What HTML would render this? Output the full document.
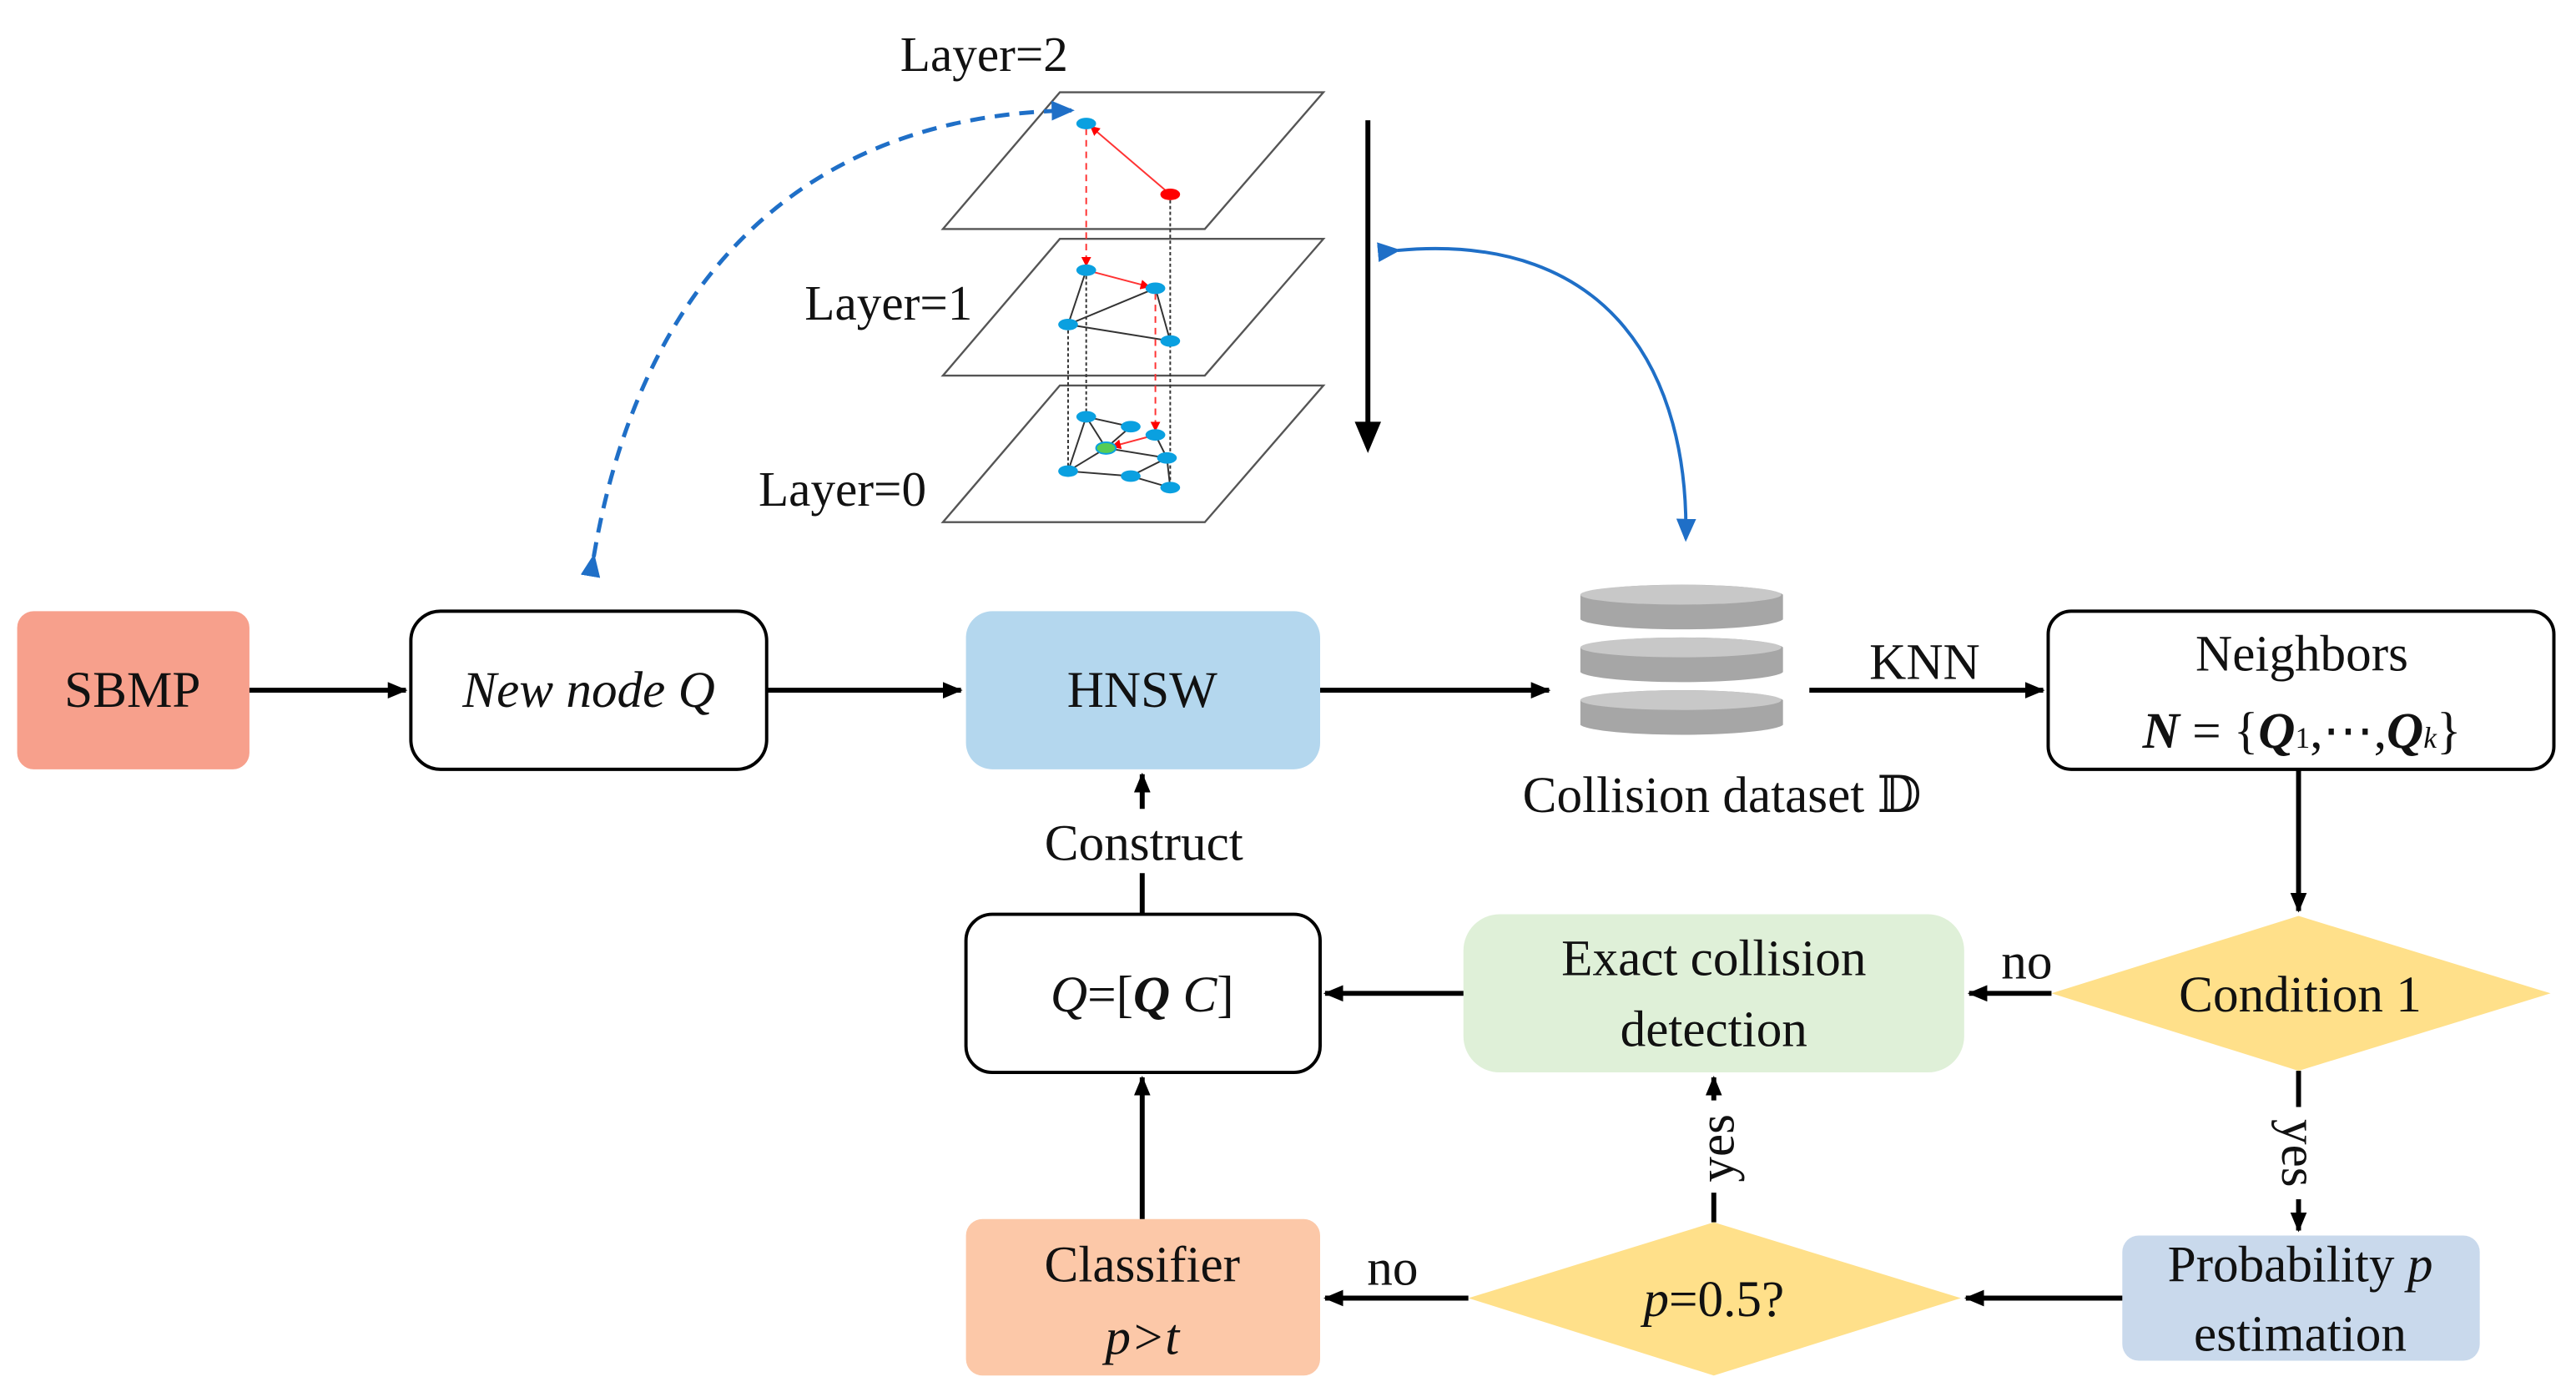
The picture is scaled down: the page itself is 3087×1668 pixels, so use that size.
<!DOCTYPE html>
<html><head><meta charset="utf-8"><style>
html,body{margin:0;padding:0;background:#fff;}
svg{display:block;font-family:"Liberation Serif","Times New Roman","DejaVu Serif",serif;}
text{font-family:"Liberation Serif","Times New Roman","DejaVu Serif",serif;fill:#111;}
</style></head><body>
<svg width="3087" height="1668" viewBox="0 0 1563 845" xmlns="http://www.w3.org/2000/svg" font-family="Liberation Serif, serif">
<defs>
<marker id="ah" markerWidth="12" markerHeight="10" refX="11" refY="5" orient="auto" markerUnits="userSpaceOnUse"><path d="M0,0 L12,5 L0,10 Z" fill="#000"/></marker>
<marker id="ab" markerWidth="14" markerHeight="12" refX="12" refY="6" orient="auto" markerUnits="userSpaceOnUse"><path d="M0,0 L14,6 L0,12 Z" fill="#1f6fc7"/></marker>
<marker id="ar" markerWidth="6" markerHeight="6" refX="5" refY="3" orient="auto" markerUnits="userSpaceOnUse"><path d="M0,0 L6,3 L0,6 Z" fill="#f00"/></marker>
</defs>

<g fill="none" stroke="#555" stroke-width="1.2">
<polygon points="643,56 803,56 731,139 572,139" fill="#fff"/>
<polygon points="643,145 803,145 731,228 572,228"/>
<polygon points="643,234 803,234 731,317 572,317"/>
</g>
<g stroke="#333" stroke-width="1" stroke-dasharray="2,1.5">
<line x1="710" y1="118" x2="710" y2="296"/>
<line x1="648" y1="197" x2="648" y2="286"/>
<line x1="659" y1="164" x2="659" y2="253"/>
</g>
<g stroke="#333" stroke-width="1">
<line x1="659" y1="164" x2="648" y2="197"/><line x1="701" y1="175" x2="648" y2="197"/>
<line x1="648" y1="197" x2="710" y2="207"/><line x1="701" y1="175" x2="710" y2="207"/>
<line x1="659" y1="253" x2="686" y2="259"/><line x1="659" y1="253" x2="648" y2="286"/>
<line x1="659" y1="253" x2="671" y2="272"/><line x1="686" y1="259" x2="671" y2="272"/>
<line x1="671" y1="272" x2="648" y2="286"/><line x1="671" y1="272" x2="708" y2="278"/>
<line x1="701" y1="264" x2="708" y2="278"/><line x1="648" y1="286" x2="686" y2="289"/>
<line x1="686" y1="289" x2="708" y2="278"/><line x1="686" y1="289" x2="710" y2="296"/>
<line x1="708" y1="278" x2="710" y2="296"/>
</g>
<g stroke="#f33" stroke-width="1" fill="none">
<line x1="710" y1="118" x2="662" y2="77" marker-end="url(#ar)"/>
<line x1="659" y1="164" x2="697" y2="174" marker-end="url(#ar)"/>
<line x1="701" y1="264" x2="675" y2="271" marker-end="url(#ar)"/>
<line x1="659" y1="78" x2="659" y2="161" stroke-dasharray="4,3" marker-end="url(#ar)"/>
<line x1="701" y1="178" x2="701" y2="261" stroke-dasharray="4,3" marker-end="url(#ar)"/>
</g>
<g fill="#0aa0e0">
<ellipse cx="659" cy="75" rx="6" ry="3.5"/>
<ellipse cx="659" cy="164" rx="6" ry="3.5"/><ellipse cx="701" cy="175" rx="6" ry="3.5"/>
<ellipse cx="648" cy="197" rx="6" ry="3.5"/><ellipse cx="710" cy="207" rx="6" ry="3.5"/>
<ellipse cx="659" cy="253" rx="6" ry="3.5"/><ellipse cx="686" cy="259" rx="6" ry="3.5"/>
<ellipse cx="701" cy="264" rx="6" ry="3.5"/><ellipse cx="708" cy="278" rx="6" ry="3.5"/>
<ellipse cx="648" cy="286" rx="6" ry="3.5"/><ellipse cx="686" cy="289" rx="6" ry="3.5"/>
<ellipse cx="710" cy="296" rx="6" ry="3.5"/>
</g>
<ellipse cx="710" cy="118" rx="6" ry="3.5" fill="#f00"/>
<ellipse cx="671" cy="272" rx="6" ry="3.5" fill="#5c5" stroke="#0aa0e0" stroke-width="1"/>

<text x="597" y="43" font-size="30" text-anchor="middle">Layer=2</text>
<text x="539" y="194" font-size="30" text-anchor="middle">Layer=1</text>
<text x="511" y="307" font-size="30" text-anchor="middle">Layer=0</text>

<line x1="830" y1="73" x2="830" y2="258" stroke="#000" stroke-width="3"/>
<path d="M822,256 L838,256 L830,275 Z" fill="#000"/>

<path d="M360,338 C385,190 470,70 650,67" fill="none" stroke="#1f6fc7" stroke-width="2.5" stroke-dasharray="9,6" marker-end="url(#ab)" marker-start="url(#ab)"/>
<path d="M848,152 C980,140 1025,230 1023,327" fill="none" stroke="#1f6fc7" stroke-width="2" marker-end="url(#ab)" marker-start="url(#ab)"/>

<rect x="10" y="371" width="141" height="96" rx="10" fill="#f7a08c"/>
<text x="80" y="429" font-size="31" text-anchor="middle">SBMP</text>
<rect x="249" y="371" width="216" height="96" rx="18" fill="#fff" stroke="#000" stroke-width="2"/>
<text x="357" y="429" font-size="31" text-anchor="middle" font-style="italic">New node Q</text>
<rect x="586" y="371" width="215" height="96" rx="16" fill="#b4d7ee"/>
<text x="693" y="429" font-size="31" text-anchor="middle">HNSW</text>

<g fill="#a6a6a6" stroke="#fff" stroke-width="2">
<path d="M958,440 v-15 a62,7 0 0 1 125,0 v15 a62,7 0 0 1 -125,0 Z"/>
<path d="M958,408 v-15 a62,7 0 0 1 125,0 v15 a62,7 0 0 1 -125,0 Z"/>
<path d="M958,376 v-15 a62,7 0 0 1 125,0 v15 a62,7 0 0 1 -125,0 Z"/>
</g>
<g fill="#c8c8c8"><ellipse cx="1020" cy="361" rx="61" ry="6"/><ellipse cx="1020" cy="393" rx="61" ry="6"/><ellipse cx="1020" cy="425" rx="61" ry="6"/></g>
<text x="1045" y="493" font-size="31" text-anchor="middle">Collision dataset 𝔻</text>

<rect x="1243" y="371" width="307" height="96" rx="14" fill="#fff" stroke="#000" stroke-width="2"/>
<text x="1397" y="407" font-size="31" text-anchor="middle">Neighbors</text>
<text x="1397" y="454" font-size="31" text-anchor="middle"><tspan font-weight="bold" font-style="italic">N</tspan> = {<tspan font-weight="bold" font-style="italic">Q</tspan><tspan font-size="18">1</tspan>,⋯,<tspan font-weight="bold" font-style="italic">Q</tspan><tspan font-size="18" font-style="italic">k</tspan>}</text>

<polygon points="1245,603 1395,556 1548,603 1395,650" fill="#ffe08a"/>
<text x="1396" y="614" font-size="31" text-anchor="middle">Condition 1</text>

<rect x="888" y="555" width="304" height="96" rx="22" fill="#dff0d8"/>
<text x="1040" y="592" font-size="31" text-anchor="middle">Exact collision</text>
<text x="1040" y="635" font-size="31" text-anchor="middle">detection</text>

<rect x="586" y="555" width="215" height="96" rx="16" fill="#fff" stroke="#000" stroke-width="2"/>
<text x="693" y="614" font-size="31" text-anchor="middle"><tspan font-style="italic">Q</tspan>=[<tspan font-weight="bold" font-style="italic">Q</tspan> <tspan font-style="italic">C</tspan>]</text>

<rect x="586" y="740" width="215" height="95" rx="10" fill="#fcc8a8"/>
<text x="693" y="778" font-size="31" text-anchor="middle">Classifier</text>
<text x="693" y="822" font-size="31" text-anchor="middle" font-style="italic">p&gt;t</text>

<polygon points="891,788 1040,742 1190,788 1040,835" fill="#ffe08a"/>
<text x="1040" y="799" font-size="31" text-anchor="middle"><tspan font-style="italic">p</tspan>=0.5?</text>

<rect x="1288" y="750" width="217" height="76" rx="10" fill="#c9d9ec"/>
<text x="1396" y="778" font-size="31" text-anchor="middle">Probability <tspan font-style="italic">p</tspan></text>
<text x="1396" y="820" font-size="31" text-anchor="middle">estimation</text>

<g stroke="#000" stroke-width="3" fill="none" marker-end="url(#ah)">
<line x1="151" y1="419" x2="246" y2="419"/>
<line x1="465" y1="419" x2="583" y2="419"/>
<line x1="801" y1="419" x2="940" y2="419"/>
<line x1="1098" y1="419" x2="1240" y2="419"/>
<line x1="1395" y1="467" x2="1395" y2="553"/>
<line x1="1245" y1="603" x2="1195" y2="603"/>
<line x1="888" y1="603" x2="804" y2="603"/>
<line x1="1395" y1="650" x2="1395" y2="747"/>
<line x1="1288" y1="788" x2="1193" y2="788"/>
<line x1="891" y1="788" x2="804" y2="788"/>
<line x1="1040" y1="742" x2="1040" y2="654"/>
<line x1="693" y1="740" x2="693" y2="654"/>
<line x1="693" y1="491" x2="693" y2="470"/>
</g>
<line x1="693" y1="555" x2="693" y2="530" stroke="#000" stroke-width="3"/>
<rect x="1375" y="672" width="40" height="56" fill="#fff"/>
<rect x="1022" y="668" width="36" height="56" fill="#fff"/>
<text x="1168" y="412" font-size="31" text-anchor="middle">KNN</text>
<text x="1230" y="594" font-size="31" text-anchor="middle">no</text>
<text x="845" y="780" font-size="31" text-anchor="middle">no</text>
<text x="694" y="522" font-size="31" text-anchor="middle">Construct</text>
<text transform="translate(1385,700) rotate(90)" font-size="31" text-anchor="middle">yes</text>
<text transform="translate(1052,697) rotate(-90)" font-size="31" text-anchor="middle">yes</text>
</svg>
</body></html>
